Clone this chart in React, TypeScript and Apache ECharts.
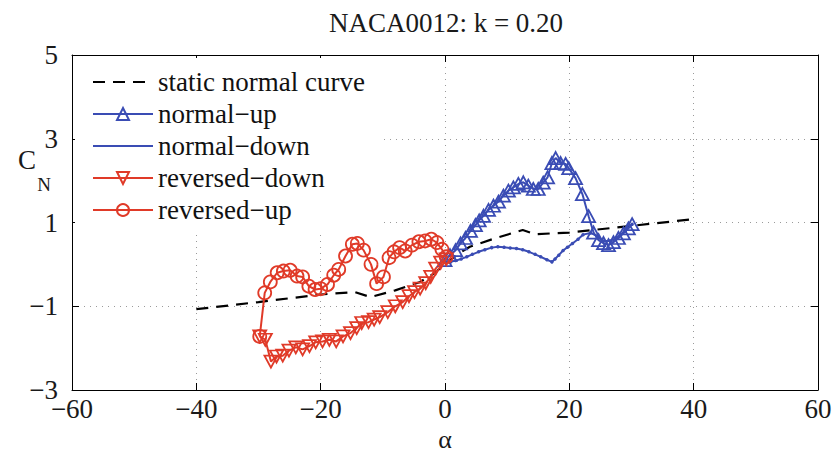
import React, { useEffect, useRef } from "react";
import * as echarts from "echarts";

const FONT = "Liberation Serif, Times New Roman, DejaVu Serif, serif";
const BLUE = "#3a4cb4";
const RED = "#e03a28";

const xTicks = { min: -60, max: 60, step: 20 };
const yTicks = { min: -3, max: 5, step: 2 };

const seriesNames = [
  "static normal curve",
  "normal\u2212up",
  "normal\u2212down",
  "reversed\u2212down",
  "reversed\u2212up",
];

const staticCurve: number[][] = [
  [-40, -1.07], [-30, -0.9], [-20, -0.72], [-14.5, -0.66], [-12, -0.78],
  [-8, -0.62], [-4, -0.42], [-2, -0.24], [0, 0], [2, 0.24], [4, 0.42],
  [8, 0.62], [12.5, 0.82], [14.5, 0.72], [20, 0.76], [30, 0.92], [40, 1.08],
];

const normalUp: number[][] = [
  [0, 0.1], [0.8, 0.22], [1.7, 0.34], [2.5, 0.5], [3.3, 0.63], [4.1, 0.8],
  [4.9, 0.94], [5.5, 1.05], [6.2, 1.16], [7.0, 1.3], [7.8, 1.4], [8.6, 1.5],
  [9.4, 1.64], [10.2, 1.76], [11.0, 1.84], [11.8, 1.92], [12.6, 1.96],
  [13.4, 1.88], [14.2, 1.8], [15.0, 1.8], [15.8, 1.95], [16.5, 2.08],
  [17.2, 2.42], [17.8, 2.54], [18.6, 2.42], [19.4, 2.4], [19.9, 2.3],
  [21.0, 2.06], [22.1, 1.68], [23.1, 1.15], [23.9, 0.76], [24.7, 0.58],
  [25.5, 0.51], [26.3, 0.46], [27.1, 0.53], [27.9, 0.63], [28.7, 0.74],
  [29.5, 0.86], [30.1, 0.96],
];

const normalDown: number[][] = [
  [30.1, 0.96], [29.0, 0.8], [27.8, 0.65], [26.6, 0.56], [25.4, 0.56],
  [24.4, 0.68], [23.4, 0.75], [22.2, 0.71], [21.4, 0.6], [20.5, 0.5],
  [19.7, 0.41], [19.0, 0.33], [18.3, 0.22], [17.7, 0.13], [17.2, 0.06],
  [16.4, 0.11], [15.4, 0.18], [14.5, 0.24], [13.5, 0.3], [12.5, 0.35],
  [11.5, 0.38], [10.5, 0.39], [9.5, 0.41], [8.5, 0.42], [7.5, 0.4],
  [6.4, 0.35], [5.4, 0.3], [4.4, 0.24], [3.5, 0.18], [2.6, 0.13],
  [1.7, 0.09], [0.9, 0.06], [0, 0.05],
];

const reversedDown: number[][] = [
  [0.2, 0.12], [-0.7, 0.04], [-1.5, -0.1], [-2.3, -0.3], [-3.1, -0.45],
  [-4.0, -0.58], [-4.9, -0.66], [-5.8, -0.76], [-6.8, -0.9], [-8.0, -1.0],
  [-9.2, -1.14], [-10.5, -1.26], [-11.4, -1.32], [-12.3, -1.38],
  [-13.4, -1.4], [-14.2, -1.52], [-15.2, -1.64], [-16.4, -1.72],
  [-17.5, -1.84], [-18.6, -1.8], [-19.7, -1.84], [-20.8, -1.86],
  [-21.8, -1.95], [-22.9, -2.03], [-24.0, -1.98], [-25.1, -2.06],
  [-26.1, -2.18], [-27.1, -2.2], [-28.0, -2.32], [-28.9, -1.8], [-29.8, -1.72],
];

const reversedUp: number[][] = [
  [-29.8, -1.72], [-29.0, -0.68], [-28.1, -0.42], [-27.0, -0.2],
  [-26.0, -0.16], [-24.9, -0.14], [-23.8, -0.28], [-22.9, -0.3],
  [-21.9, -0.52], [-20.9, -0.6], [-20.0, -0.58], [-18.9, -0.48],
  [-17.9, -0.26], [-17.1, -0.12], [-16.0, 0.2], [-14.9, 0.48],
  [-14.1, 0.5], [-13.1, 0.34], [-11.9, 0.0], [-11.0, -0.46], [-9.9, -0.3],
  [-9.0, 0.16], [-8.2, 0.3], [-7.3, 0.4], [-6.4, 0.32], [-5.3, 0.46],
  [-4.2, 0.54], [-3.2, 0.56], [-2.2, 0.6], [-1.3, 0.52], [-0.5, 0.36],
  [0.2, 0.18],
];

const minusFmt = (v: number) => String(v).replace("-", "\u2212");

export default function App() {
  const ref = useRef<HTMLDivElement>(null);

  useEffect(() => {
    document.body.style.margin = "0";
    const chart = echarts.init(ref.current!, undefined, { renderer: "svg" });
    const axisLine = { onZero: false, lineStyle: { color: "#000", width: 1 } };
    const axisTick = { inside: true, length: 7, lineStyle: { color: "#000", width: 1 } };
    const split = { show: true, lineStyle: { color: "#9a9a9a", type: [1, 5], width: 1 } };
    const label = { fontFamily: FONT, fontSize: 27, color: "#1a1a1a" };
    const hollow = (c: string) => ({ color: "rgba(255,255,255,0)", borderColor: c, borderWidth: 1.8 });

    chart.setOption({
      animation: false,
      backgroundColor: "#ffffff",
      textStyle: { fontFamily: FONT },
      grid: { left: 72, right: 17, top: 55, bottom: 64, containLabel: false, outerBoundsMode: "none" },
      xAxis: [
        {
          type: "value", min: xTicks.min, max: xTicks.max, interval: xTicks.step, position: "bottom",
          axisLine, axisTick, splitLine: split,
          axisLabel: { ...label, margin: 5, formatter: minusFmt },
        },
        {
          type: "value", min: xTicks.min, max: xTicks.max, interval: xTicks.step, position: "top",
          axisLine, axisTick, splitLine: { show: false }, axisLabel: { show: false },
        },
      ],
      yAxis: [
        {
          type: "value", min: yTicks.min, max: yTicks.max, interval: yTicks.step, position: "left",
          axisLine, axisTick, splitLine: split,
          axisLabel: { ...label, margin: 14, formatter: minusFmt },
        },
        {
          type: "value", min: yTicks.min, max: yTicks.max, interval: yTicks.step, position: "right",
          axisLine, axisTick, splitLine: { show: false }, axisLabel: { show: false },
        },
      ],
      legend: {
        show: true, orient: "vertical", left: 75, top: 58, padding: [9, 16, 7, 17],
        itemWidth: 60, itemHeight: 15, itemGap: 2, backgroundColor: "#ffffff",
        selectedMode: false,
        textStyle: { fontFamily: FONT, fontSize: 27, color: "#111", lineHeight: 30 },
        data: [
          { name: seriesNames[0], itemStyle: { color: "rgba(0,0,0,0)", borderWidth: 0 } },
          { name: seriesNames[1] },
          { name: seriesNames[2], itemStyle: { color: "rgba(0,0,0,0)", borderWidth: 0 } },
          { name: seriesNames[3] },
          { name: seriesNames[4] },
        ],
      },
      graphic: [
        {
          type: "text", x: 446, y: 23,
          style: { text: "NACA0012: k = 0.20", fontFamily: FONT, fontSize: 27, fill: "#1a1a1a", align: "center", verticalAlign: "middle" },
        },
        {
          type: "text", x: 27, y: 160,
          style: { text: "C", fontFamily: FONT, fontSize: 27, fill: "#1a1a1a", align: "center", verticalAlign: "middle" },
        },
        {
          type: "text", x: 44, y: 184,
          style: { text: "N", fontFamily: FONT, fontSize: 19, fill: "#1a1a1a", align: "center", verticalAlign: "middle" },
        },
        {
          type: "text", x: 445, y: 439,
          style: { text: "\u03b1", fontFamily: FONT, fontSize: 26, fill: "#1a1a1a", align: "center", verticalAlign: "middle" },
        },
      ],
      series: [
        {
          name: seriesNames[0], type: "line", data: staticCurve, symbol: "none",
          lineStyle: { color: "#000", width: 2.2, type: [12, 8] }, itemStyle: { color: "#000" },
        },
        {
          name: seriesNames[1], type: "line", data: normalUp, symbol: "triangle", symbolSize: [13, 12],
          lineStyle: { color: BLUE, width: 2 }, itemStyle: hollow(BLUE),
        },
        {
          name: seriesNames[2], type: "line", data: normalDown, symbol: "circle", symbolSize: 3.5,
          lineStyle: { color: BLUE, width: 2 }, itemStyle: { color: BLUE },
        },
        {
          name: seriesNames[3], type: "line", data: reversedDown, symbol: "triangle", symbolRotate: 180,
          symbolSize: [13, 12], lineStyle: { color: RED, width: 2 }, itemStyle: hollow(RED),
        },
        {
          name: seriesNames[4], type: "line", data: reversedUp, symbol: "circle", symbolSize: 13,
          lineStyle: { color: RED, width: 2 }, itemStyle: hollow(RED),
        },
      ],
    });
    return () => chart.dispose();
  }, []);

  return <div ref={ref} style={{ width: 835, height: 454, position: "absolute", left: 0, top: 0 }} />;
}
